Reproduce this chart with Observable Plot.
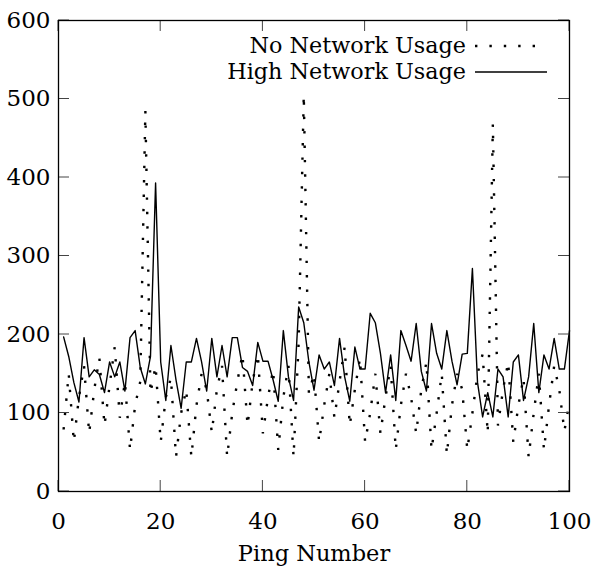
<!DOCTYPE html>
<html><head><meta charset="utf-8">
<script src="https://cdn.jsdelivr.net/npm/d3@7"></script>
<script src="https://cdn.jsdelivr.net/npm/@observablehq/plot@0.6"></script>
<style>
body{margin:0;background:#fff}
#chart svg{display:block}
#chart svg, #chart svg text{font-family: "DejaVu Serif", "Liberation Serif", "Times New Roman", serif !important;}
</style>
</head><body><div id="chart"></div>
<script>
const pingNumbers = d3.range(1, 101);
const noNetwork = [
  79,150,63,120,160,74,130,170,84,135,
  184,94,140,53,110,140,485,125,160,63,
  120,145,44,100,130,44,110,150,130,75,
  130,160,44,100,140,175,84,140,175,74,
  120,155,53,120,160,44,190,505,125,150,
  63,110,150,94,140,184,84,130,170,63,
  100,150,74,120,160,53,110,150,120,74,
  130,165,53,100,150,47,110,150,130,53,
  100,150,175,74,468,84,130,165,63,110,
  145,44,100,150,53,110,160,130,77,115
];
const highNetwork = [
  197,172,139,114,196,146,155,149,126,165,
  146,165,128,196,205,158,137,172,393,165,
  116,186,142,106,165,165,195,165,128,195,
  146,186,146,196,196,158,153,135,190,166,
  166,142,115,205,146,116,235,215,165,129,
  174,156,165,135,195,146,115,184,156,156,
  227,215,176,126,174,116,205,186,166,214,
  153,128,214,176,156,205,166,136,175,176,
  284,139,95,126,95,156,146,95,165,174,
  116,146,214,126,174,156,195,156,156,205
];
const xTicks = [0, 20, 40, 60, 80, 100];
const yTicks = [0, 100, 200, 300, 400, 500, 600];
const seriesNames = ["No Network Usage", "High Network Usage"];
const xLabel = "Ping Number";

const FONT = "DejaVu Serif, Liberation Serif, Times New Roman, serif";
const dotDash = "2.4 12";
const FS = 23;

const table = pingNumbers.map((p, i) => ({p, none: noNetwork[i], high: highNetwork[i]}));

function tickMarks(index, scales, values, dims) {
  const g = d3.create("svg:g").attr("stroke", "#444").attr("stroke-width", 1).attr("fill", "none");
  const top = dims.marginTop, bottom = dims.height - dims.marginBottom;
  const left = dims.marginLeft, right = dims.width - dims.marginRight;
  const L = 11;
  for (const t of xTicks) {
    const x = scales.x(t);
    g.append("line").attr("x1", x).attr("x2", x).attr("y1", bottom).attr("y2", bottom - L);
    g.append("line").attr("x1", x).attr("x2", x).attr("y1", top).attr("y2", top + L);
  }
  for (const t of yTicks) {
    const y = scales.y(t);
    g.append("line").attr("x1", left).attr("x2", left + L).attr("y1", y).attr("y2", y);
    g.append("line").attr("x1", right).attr("x2", right - L).attr("y1", y).attr("y2", y);
  }
  return g.node();
}

function legendMark(index, scales, values, dims) {
  const g = d3.create("svg:g");
  const right = dims.width - dims.marginRight;
  const top = dims.marginTop;
  const rows = [
    {name: seriesNames[0], dash: dotDash, width: 2.4, y: top + 26},
    {name: seriesNames[1], dash: null, width: 1.4, y: top + 52}
  ];
  for (const r of rows) {
    g.append("text")
      .attr("x", right - 103).attr("y", r.y)
      .attr("dy", "0.32em")
      .attr("text-anchor", "end")
      .attr("font-size", 22.3)
      .attr("fill", "black")
      .text(r.name);
    const ln = g.append("line")
      .attr("x1", right - 94).attr("x2", right - 22)
      .attr("y1", r.y).attr("y2", r.y)
      .attr("stroke", "black").attr("stroke-width", r.width);
    if (r.dash) ln.attr("stroke-dasharray", r.dash);
  }
  return g.node();
}

const chart = Plot.plot({
  width: 591,
  height: 569,
  marginLeft: 58,
  marginRight: 22,
  marginTop: 20,
  marginBottom: 78,
  x: {domain: [0, 100], axis: null},
  y: {domain: [0, 600], axis: null},
  style: {fontFamily: FONT, fontSize: FS + "px", color: "black", background: "white"},
  marks: [
    Plot.line(table, {x: "p", y: "none", stroke: "black", strokeWidth: 2.4, strokeDasharray: dotDash, strokeLinecap: "butt", strokeLinejoin: "miter"}),
    Plot.line(table, {x: "p", y: "high", stroke: "black", strokeWidth: 1.4}),
    tickMarks,
    Plot.frame({stroke: "black", strokeWidth: 1.3}),
    Plot.text(xTicks, {x: d => d, frameAnchor: "bottom", dy: 30, lineAnchor: "middle", fontSize: FS, fill: "black"}),
    Plot.text(yTicks, {y: d => d, frameAnchor: "left", dx: -8, textAnchor: "end", lineAnchor: "middle", fontSize: FS, fill: "black"}),
    Plot.text([xLabel], {frameAnchor: "bottom", dy: 62, lineAnchor: "middle", fontSize: 22.5, fill: "black"}),
    legendMark
  ]
});
document.getElementById("chart").appendChild(chart);
</script>
</body></html>
